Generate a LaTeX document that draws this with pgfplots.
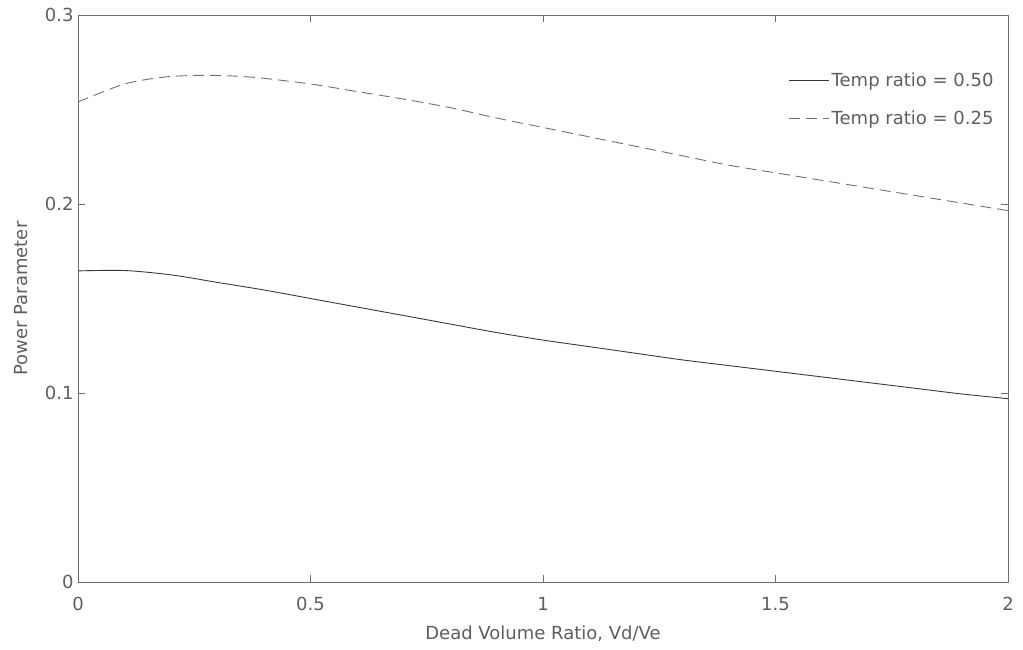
\documentclass[border=0pt]{standalone}
\usepackage{fontspec}
\setmainfont{DejaVu Sans}
\usepackage{pgfplots}
\pgfplotsset{compat=1.18}
\definecolor{axgray}{HTML}{6E6E6E}
\definecolor{txtgray}{HTML}{5E5E5E}
\definecolor{solidc}{HTML}{3A3A3A}
\definecolor{dashc}{HTML}{707070}
\begin{document}
\begin{tikzpicture}
\begin{axis}[
  scale only axis,
  width=930pt, height=567pt,
  xmin=0, xmax=2, ymin=0, ymax=0.3,
  xtick={0,0.5,1,1.5,2},
  ytick={0,0.1,0.2,0.3},
  xticklabels={0,0.5,1,1.5,2},
  yticklabels={0,0.1,0.2,0.3},
  tick align=inside,
  major tick length=7pt,
  axis line style={axgray, line width=0.9pt},
  every tick/.style={axgray, line width=0.9pt},
  tick label style={font=\fontsize{18}{22}\selectfont, text=txtgray},
  xticklabel style={yshift=-12pt},
  yticklabel style={xshift=-1pt},
  xlabel={Dead Volume Ratio, Vd/Ve},
  ylabel={Power Parameter},
  label style={font=\fontsize{18}{22}\selectfont, text=txtgray},
  xlabel style={yshift=-8pt},
  ylabel style={yshift=10pt},
  legend style={draw=none, fill=none, at={(rel axis cs:0.99,0.905)}, anchor=north east,
    font=\fontsize{18}{22}\selectfont, text=txtgray, row sep=19pt},
  legend cell align=left,
  legend image code/.code={\draw[#1] (0pt,0pt) -- (40pt,0pt);},
]
\addplot[solidc, line width=0.9pt, smooth] coordinates {
(0,0.1646) (0.1,0.1648) (0.2,0.1625) (0.3,0.1585) (0.4,0.1545) (0.5,0.150)
(0.6,0.1455) (0.7,0.141) (0.8,0.1365) (0.9,0.132) (1.0,0.128) (1.1,0.1245)
(1.2,0.121) (1.3,0.1175) (1.4,0.1145) (1.5,0.1115) (1.6,0.1085) (1.7,0.1055)
(1.8,0.1025) (1.9,0.0995) (2.0,0.097)
};
\addlegendentry{Temp ratio = 0.50}
\addplot[dashc, line width=0.9pt, smooth, dash pattern=on 11pt off 6pt] coordinates {
(0,0.254) (0.05,0.259) (0.1,0.2635) (0.15,0.266) (0.2,0.2675) (0.25,0.268)
(0.3,0.268) (0.35,0.2675) (0.4,0.2665) (0.5,0.2635) (0.6,0.2595) (0.7,0.2555)
(0.8,0.251) (0.9,0.2455) (1.0,0.2405) (1.1,0.2355) (1.2,0.2305) (1.3,0.2255)
(1.4,0.2205) (1.5,0.2165) (1.6,0.2125) (1.7,0.2085) (1.8,0.2045) (1.9,0.2005)
(2.0,0.1965)
};
\addlegendentry{Temp ratio = 0.25}
\coordinate (sw) at (rel axis cs:0,0);
\coordinate (ne) at (rel axis cs:1,1);
\end{axis}
\path (sw) ++(-78pt,-68pt) (ne) ++(15pt,15pt);
\end{tikzpicture}
\end{document}
